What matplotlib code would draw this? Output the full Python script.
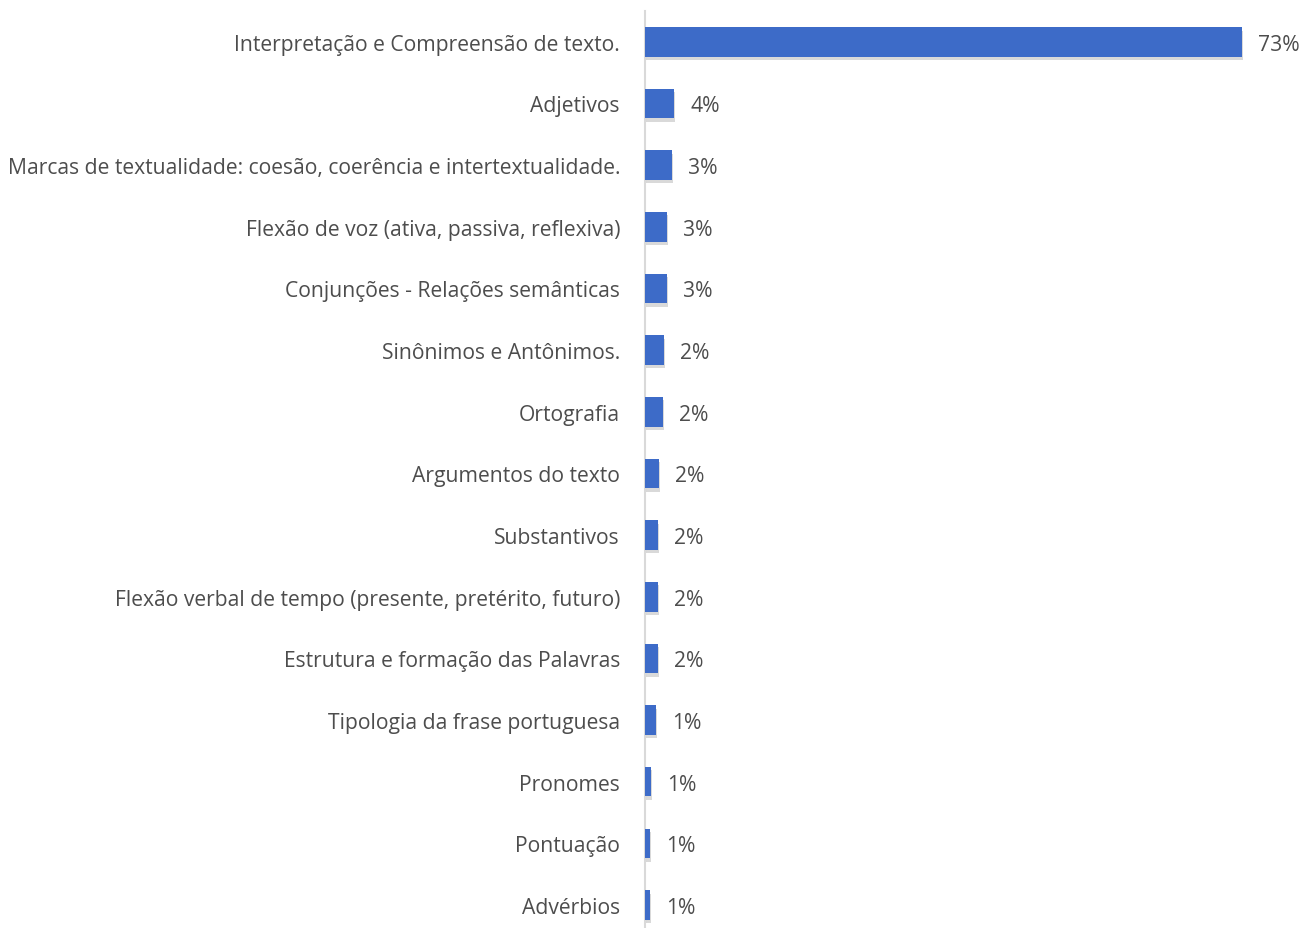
import matplotlib
matplotlib.use("Agg")
import matplotlib.pyplot as plt
import matplotlib.patheffects as pe

categories = [
    "Interpretação e Compreensão de texto.",
    "Adjetivos",
    "Marcas de textualidade: coesão, coerência e intertextualidade.",
    "Flexão de voz (ativa, passiva, reflexiva)",
    "Conjunções - Relações semânticas",
    "Sinônimos e Antônimos.",
    "Ortografia",
    "Argumentos do texto",
    "Substantivos",
    "Flexão verbal de tempo (presente, pretérito, futuro)",
    "Estrutura e formação das Palavras",
    "Tipologia da frase portuguesa",
    "Pronomes",
    "Pontuação",
    "Advérbios",
]
values = [73.0, 3.55, 3.3, 2.7, 2.7, 2.3, 2.2, 1.7, 1.6, 1.6, 1.6, 1.35, 0.73, 0.6, 0.6]
labels = ["73%", "4%", "3%", "3%", "3%", "2%", "2%", "2%", "2%", "2%", "2%", "1%", "1%", "1%", "1%"]

plt.rcParams['font.family'] = ['Open Sans', 'DejaVu Sans']

W, H = 1301, 929
fig = plt.figure(figsize=(W / 100, H / 100), dpi=100)
left_px, top_px, bottom_px = 645, 12, 929
xmax = 80
px_per_unit = (1242 - 645) / 73.0
width_px = xmax * px_per_unit
ax = fig.add_axes([left_px / W, (H - bottom_px) / H, width_px / W, (bottom_px - top_px) / H])

ypos = list(range(len(categories)))
bars = ax.barh(ypos, values, height=0.48, color="#3D6BC8", zorder=3)
for b in bars:
    b.set_path_effects([pe.SimplePatchShadow(offset=(1, -2.5), shadow_rgbFace="#000000", alpha=0.15), pe.Normal()])

FS = 15.2
TXT = "#4D4D4D"
for y, v, lab in zip(ypos, values, labels):
    ax.annotate(lab, xy=(v, y), xytext=(11.5, -1.8), textcoords="offset points",
                ha="left", va="center", fontsize=FS, color=TXT)

ax.set_xlim(0, xmax)
ax.set_ylim(14.373, -0.5)
ax.set_yticks(ypos)
ax.set_yticklabels(categories, fontsize=FS, color=TXT)
ax.tick_params(axis="y", length=0, pad=18)
ax.set_xticks([])
for s in ["top", "right", "bottom"]:
    ax.spines[s].set_visible(False)
ax.spines["left"].set_color("#D9D9D9")
ax.spines["left"].set_linewidth(1.5)
ax.patch.set_alpha(0)

fig.savefig("out.png", dpi=100, facecolor="white")
